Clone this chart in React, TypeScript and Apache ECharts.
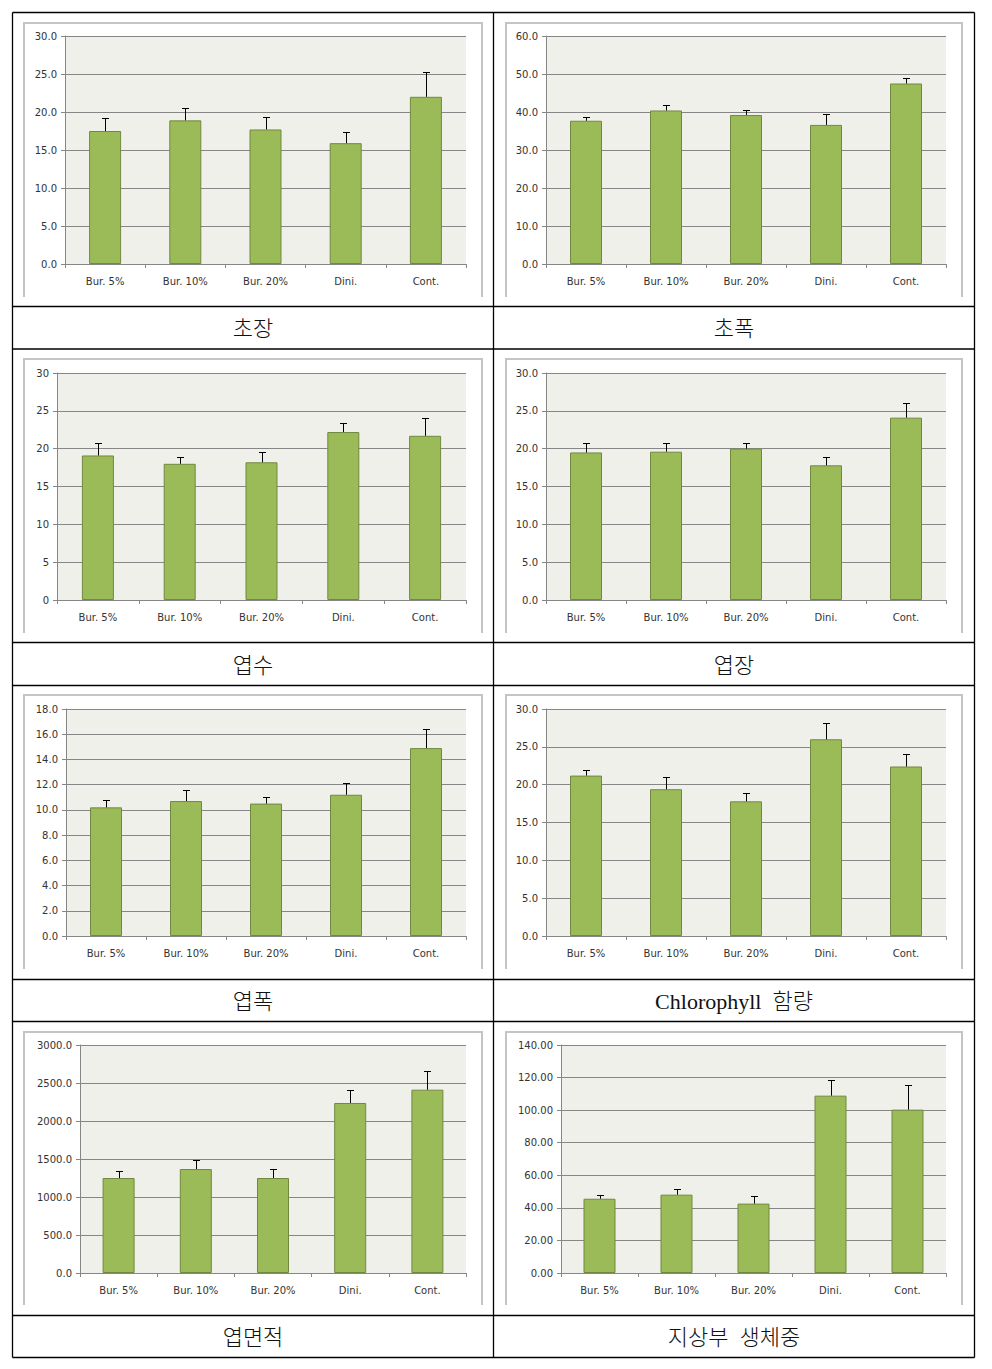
import React, { useEffect, useRef } from "react";
import * as echarts from "echarts";

const categories = ["Bur. 5%", "Bur. 10%", "Bur. 20%", "Dini.", "Cont."];

// 초장
const plantHeightMean = [17.5, 18.9, 17.7, 15.9, 22.0];
const plantHeightSd = [1.7, 1.6, 1.6, 1.5, 3.2];
// 초폭
const plantWidthMean = [37.7, 40.4, 39.2, 36.6, 47.5];
const plantWidthSd = [1.0, 1.4, 1.3, 2.9, 1.4];
// 엽수
const leafNumberMean = [19.1, 18.0, 18.2, 22.2, 21.7];
const leafNumberSd = [1.6, 0.9, 1.4, 1.2, 2.3];
// 엽장
const leafLengthMean = [19.5, 19.6, 20.0, 17.8, 24.1];
const leafLengthSd = [1.2, 1.2, 0.8, 1.1, 1.9];
// 엽폭
const leafWidthMean = [10.2, 10.7, 10.5, 11.2, 14.9];
const leafWidthSd = [0.6, 0.9, 0.5, 0.9, 1.5];
// Chlorophyll 함량
const chlorophyllMean = [21.2, 19.4, 17.8, 26.0, 22.4];
const chlorophyllSd = [0.8, 1.6, 1.1, 2.2, 1.6];
// 엽면적
const leafAreaMean = [1250, 1368, 1250, 2237, 2412];
const leafAreaSd = [92, 119, 118, 167, 246];
// 지상부 생체중
const freshWeightMean = [45.6, 48.1, 42.6, 108.9, 100.3];
const freshWeightSd = [2.3, 3.5, 4.9, 9.6, 15.1];

const panelTitles = ["초장", "초폭", "엽수", "엽장", "엽폭", "Chlorophyll  함량", "엽면적", "지상부  생체중"];
const yMaxes = [30, 60, 30, 30, 18, 30, 3000, 140];
const yIntervals = [5, 10, 5, 5, 2, 5, 500, 20];
const yDecimals = [1, 1, 0, 1, 1, 1, 1, 2];

const panels = [
  { mean: plantHeightMean, sd: plantHeightSd },
  { mean: plantWidthMean, sd: plantWidthSd },
  { mean: leafNumberMean, sd: leafNumberSd },
  { mean: leafLengthMean, sd: leafLengthSd },
  { mean: leafWidthMean, sd: leafWidthSd },
  { mean: chlorophyllMean, sd: chlorophyllSd },
  { mean: leafAreaMean, sd: leafAreaSd },
  { mean: freshWeightMean, sd: freshWeightSd },
];

// layout (page coordinates)
const gridBoxes = [
  { left: 65, top: 36, width: 401, height: 228 },
  { left: 546, top: 36, width: 400, height: 228 },
  { left: 57, top: 373, width: 409, height: 227 },
  { left: 546, top: 373, width: 400, height: 227 },
  { left: 66, top: 709, width: 400, height: 227 },
  { left: 546, top: 709, width: 400, height: 227 },
  { left: 80, top: 1045, width: 386, height: 228 },
  { left: 561, top: 1045, width: 385, height: 228 },
];
const chartRowTops = [12.5, 349, 685.5, 1021.5];
const labelRowTops = [306.5, 642.5, 979.5, 1315.5];
const tableBottom = 1357.5;
const tableLeft = 12.5;
const tableRight = 974.5;
const tableMid = 493.5;
const frameTops = [23, 359, 695, 1032];
const frameBottoms = [297, 633, 969, 1305];

export default function App() {
  const ref = useRef<HTMLDivElement>(null);
  useEffect(() => {
    if (!ref.current) return;
    const chart = echarts.init(ref.current, null, { renderer: "svg" });
    const axisGray = "#868686";
    const grid: any[] = [];
    const xAxis: any[] = [];
    const yAxis: any[] = [];
    const series: any[] = [];
    const graphic: any[] = [];

    panels.forEach((p, i) => {
      const g = gridBoxes[i];
      grid.push({
        left: g.left,
        top: g.top,
        width: g.width,
        height: g.height,
        show: true,
        backgroundColor: "#EFF0E9",
        borderWidth: 0,
      });
      xAxis.push({
        type: "category",
        gridIndex: i,
        data: categories,
        boundaryGap: true,
        axisLine: { show: true, lineStyle: { color: axisGray, width: 1 } },
        axisTick: { show: true, length: 4, lineStyle: { color: axisGray } },
        axisLabel: {
          interval: 0,
          fontSize: 10,
          fontFamily: "DejaVu Sans",
          color: "#333",
          margin: 12,
        },
        splitLine: { show: false },
      });
      yAxis.push({
        type: "value",
        gridIndex: i,
        min: 0,
        max: yMaxes[i],
        interval: yIntervals[i],
        axisLine: { show: true, lineStyle: { color: axisGray, width: 1 } },
        axisTick: { show: true, length: 4, lineStyle: { color: axisGray } },
        axisLabel: {
          fontSize: 10,
          fontFamily: "DejaVu Sans",
          color: "#333",
          margin: 8,
          formatter: (v: number) => v.toFixed(yDecimals[i]),
        },
        splitLine: { show: true, lineStyle: { color: axisGray, width: 1 } },
      });
      series.push({
        type: "bar",
        xAxisIndex: i,
        yAxisIndex: i,
        data: p.mean,
        barWidth: 32,
        itemStyle: { color: "#9BBB59", borderColor: "#71893F", borderWidth: 1 },
        z: 2,
      });
      series.push({
        type: "custom",
        xAxisIndex: i,
        yAxisIndex: i,
        z: 3,
        data: p.mean.map((m, j) => [j, m, m + p.sd[j]]),
        renderItem: (params: any, api: any) => {
          const base = api.coord([api.value(0), api.value(1)]);
          const top = api.coord([api.value(0), api.value(2)]);
          const x = Math.round(base[0]) + 0.5;
          const yt = Math.round(top[1]) + 0.5;
          return {
            type: "group",
            children: [
              {
                type: "line",
                shape: { x1: x, y1: base[1], x2: x, y2: yt },
                style: { stroke: "#000", lineWidth: 1 },
              },
              {
                type: "line",
                shape: { x1: x - 3.5, y1: yt, x2: x + 3.5, y2: yt },
                style: { stroke: "#000", lineWidth: 1 },
              },
            ],
          };
        },
      });
    });

    // table lines
    const black = { stroke: "#000", lineWidth: 1.3 };
    const ys = [chartRowTops[0], ...labelRowTops, ...chartRowTops.slice(1), tableBottom];
    ys.forEach((y) => {
      graphic.push({
        type: "line",
        shape: { x1: tableLeft, y1: y, x2: tableRight, y2: y },
        style: black,
        silent: true,
      });
    });
    [tableLeft, tableMid, tableRight].forEach((x) => {
      graphic.push({
        type: "line",
        shape: { x1: x, y1: chartRowTops[0], x2: x, y2: tableBottom },
        style: black,
        silent: true,
      });
    });

    // chart frames (bottom cut off)
    frameTops.forEach((ft, r) => {
      const fb = frameBottoms[r];
      [
        [24, 482],
        [506, 962],
      ].forEach(([l, rr]) => {
        graphic.push({
          type: "polyline",
          shape: { points: [[l, fb], [l, ft], [rr, ft], [rr, fb]] },
          style: { stroke: "#C4C4C4", lineWidth: 2, fill: null },
          silent: true,
        });
      });
    });

    // labels
    panelTitles.forEach((t, i) => {
      const row = Math.floor(i / 2);
      const col = i % 2;
      const cx = col === 0 ? (tableLeft + tableMid) / 2 : (tableMid + tableRight) / 2;
      const cy = (labelRowTops[row] + (row < 3 ? chartRowTops[row + 1] : tableBottom)) / 2 + 1;
      graphic.push({
        type: "text",
        x: cx,
        y: cy,
        silent: true,
        style: {
          text: t,
          fontSize: 22,
          fontWeight: 300,
          fontFamily: "'Liberation Serif', 'Noto Sans CJK KR', serif",
          fill: "#111",
          align: "center",
          verticalAlign: "middle",
        },
      });
    });

    chart.setOption({
      animation: false,
      backgroundColor: "#fff",
      grid,
      xAxis,
      yAxis,
      series,
      graphic,
    });
    return () => chart.dispose();
  }, []);

  return (
    <div
      ref={ref}
      style={{ position: "absolute", left: 0, top: 0, width: 992, height: 1369 }}
    />
  );
}
